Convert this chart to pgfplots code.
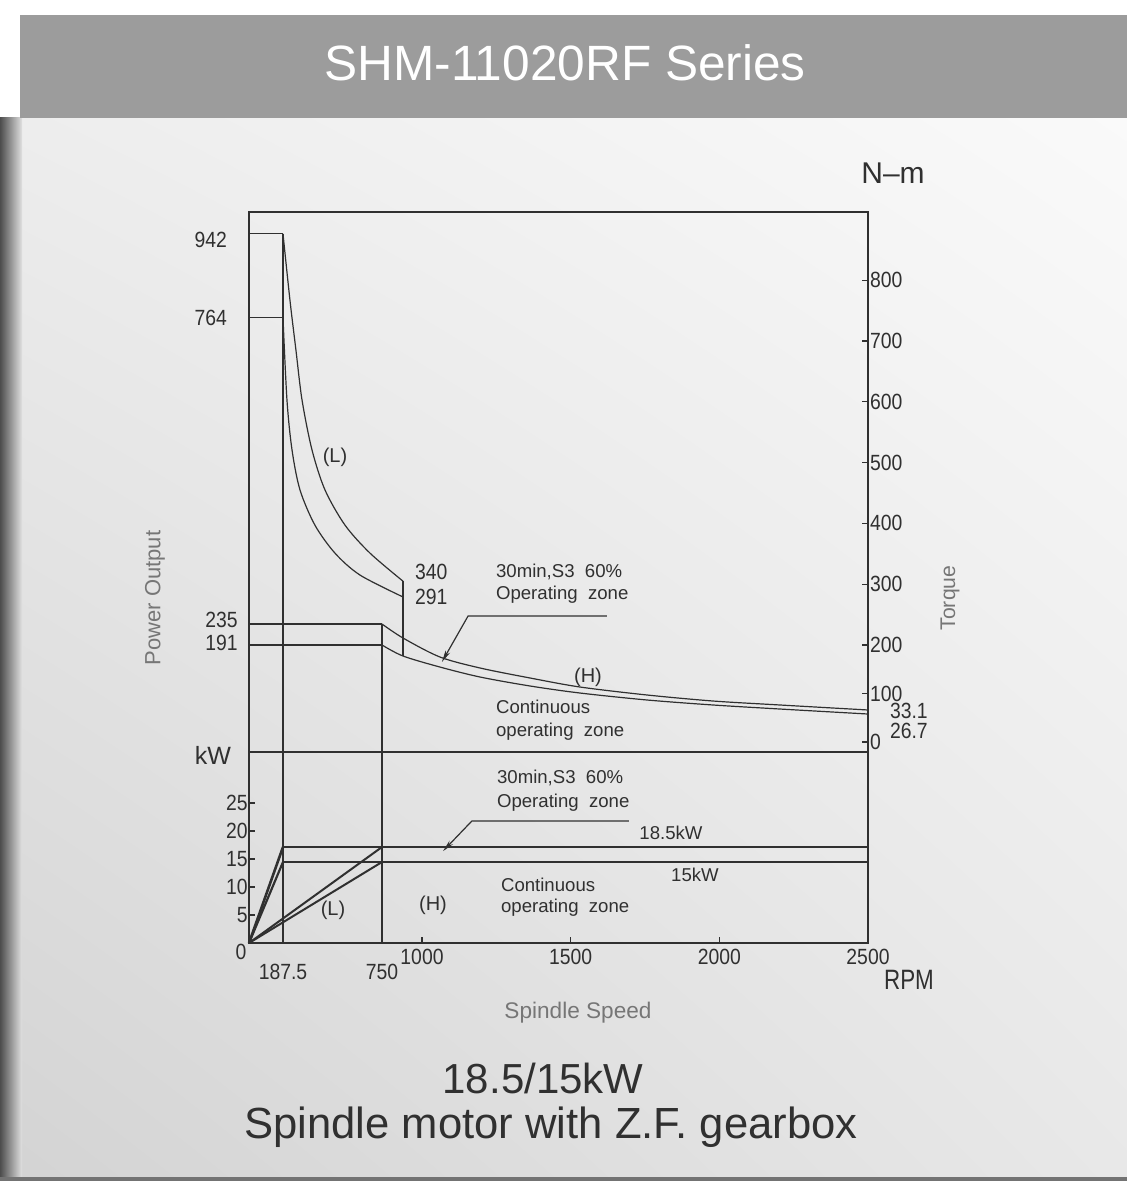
\documentclass[border=0pt]{standalone}
\usepackage{fontspec}
\setmainfont{Liberation Sans}
\newfontfamily\cad[FakeStretch=0.88]{Liberation Sans}
\usepackage{pgfplots}
\pgfplotsset{compat=1.18}
\usetikzlibrary{arrows.meta,shadings}

\definecolor{band}{HTML}{9C9C9C}
\definecolor{ink}{HTML}{303030}
\definecolor{lbl}{HTML}{767676}

\newcommand{\numf}{\cad\fontsize{11}{11}\selectfont}
\newcommand{\txtf}{\fontsize{9.3}{10}\selectfont}

% the speed axis of the drawing is not linear: 0-1000 rpm is squeezed
\pgfplotsset{
  rpm/.style={
    x coord trafo/.code={\pgfmathparse{##1<=187.5 ? ##1*0.18133 : (##1<=750 ? 34+(##1-187.5)*0.176 : (##1<=1000 ? 133+(##1-750)*0.16 : 173+(##1-1000)*0.29733))}},
  },
  nm/.style={
    y coord trafo/.code={\pgfmathparse{##1<=200 ? ##1*0.485 : 97+(##1-200)*0.608}},
  },
  ln/.style={ink, line width=0.6pt, mark=none},
  base/.style={
    scale only axis, clip=false,
    xmin=0, xmax=2500,
    axis line style={ink, line width=1pt},
    tick align=inside, major tick length=3pt,
    tick style={ink, line width=0.6pt},
    tick label style={font=\numf, text=ink},
  },
}

\begin{document}
\begin{tikzpicture}
\begin{scope}[x=0.5pt, y=-0.5pt]
  \fill[white] (0,0) rectangle (1127,1181);
  \shade[upper left=black!7, upper right=black!2, lower left=black!17, lower right=black!9] (20,118) rectangle (1127,1177);
  \shade[left color=black!70, right color=black!12] (0,118) rectangle (22,1181);
  \fill[black!55] (0,1177) rectangle (1127,1181);
  \fill[band] (20,15) rectangle (1127,118);
  \node[text=white, font=\fontsize{24.8}{26}\selectfont] at (565,63) {SHM-11020RF Series};
\end{scope}

% torque panel
\begin{axis}[base, rpm, nm,
  at={(124.5pt,-376pt)}, anchor=south west,
  width=309.5pt, height=270pt,
  ymin=-20.6, ymax=912,
  xtick=\empty,
  ytick={0,100,200,300,400,500,600,700,800},
  yticklabels={0,100,200,300,400,500,600,700,800},
  ytick pos=right, yticklabel pos=right,
  yticklabel style={anchor=west, inner sep=0pt, xshift=0.8pt},
]
\addplot[ln] coordinates {(0,876)(187.5,876)};
\addplot[ln] coordinates {(0,738)(187.5,738)};
\addplot[ln] coordinates {(187.5,876)(187.5,-20.6)};
\addplot[ln, smooth] coordinates {(187.5,876)(227,767)(261,685)(295.5,603)(352,521)(426,455)(540,397)(682,351)(881,305)};
\addplot[ln, smooth] coordinates {(187.5,738)(210,603)(238.6,521)(284,455)(369,397)(483,351)(625,315)(881,279)};
\addplot[ln] coordinates {(881,305)(881,177.3)};
\addplot[ln] coordinates {(0,234.5)(750,234.5)};
\addplot[ln] coordinates {(0,200)(750,200)};
\addplot[ln] coordinates {(750,234.5)(750,-20.6)};
\addplot[ln, smooth] coordinates {(750,234.5)(881,211.5)(1060,175.3)(1195,152.6)(1363,132)(1531,113.4)(1757,96.9)(1979,84.5)(2204,76.3)(2500,66)};
\addplot[ln, smooth] coordinates {(750,200)(881,177.3)(1060,154.6)(1195,134)(1363,115.5)(1531,101)(1757,86.6)(1979,76.3)(2204,68)(2500,57.7)};
\addplot[ln, -{Stealth[length=6pt,width=2.5pt]}] coordinates {(1622,247.7)(1155,247.7)(1067,165)};
\end{axis}

% power panel
\begin{axis}[base, rpm,
  at={(124.5pt,-471.5pt)}, anchor=south west,
  width=309.5pt, height=95.5pt,
  ymin=0, ymax=34.1,
  xtick={1000,1500,2000,2500}, xticklabels={1000,1500,2000,2500},
  extra x ticks={187.5,750}, extra x tick labels={187.5,750},
  extra x tick style={major tick length=0pt, xticklabel style={yshift=-7.5pt}},
  xtick pos=bottom, xticklabel style={inner sep=1pt, yshift=-2pt},
  ytick={5,10,15,20,25}, yticklabels={5,10,15,20,25},
  ytick pos=left, yticklabel style={inner sep=0.5pt},
]
\addplot[ln, line width=1.3pt] coordinates {(0,0)(187.5,17.14)};
\addplot[ln, line width=1.1pt] coordinates {(0,0)(187.5,14.46)};
\addplot[ln, line width=1pt] coordinates {(0,0)(750,17.14)};
\addplot[ln, line width=1pt] coordinates {(0,0)(750,14.46)};
\addplot[ln, line width=1.3pt] coordinates {(187.5,17.14)(2500,17.14)};
\addplot[ln, line width=0.9pt] coordinates {(187.5,14.46)(2500,14.46)};
\addplot[ln, line width=0.8pt] coordinates {(187.5,0)(187.5,34.1)};
\addplot[ln, line width=0.8pt] coordinates {(750,0)(750,34.1)};
\addplot[ln, -{Stealth[length=6pt,width=2.5pt]}] coordinates {(1696,21.8)(1168,21.8)(1070.6,16.4)};
\end{axis}

\begin{scope}[x=0.5pt, y=-0.5pt, every node/.style={text=ink}]
  \node[font=\fontsize{15}{15}\selectfont] at (893,173) {N–m};
  \node[anchor=east, font=\numf] at (234,240) {942};
  \node[anchor=east, font=\numf] at (234,318) {764};
  \node[anchor=east, inner sep=0pt, font=\numf] at (238,620) {235};
  \node[anchor=east, inner sep=0pt, font=\numf] at (238,643) {191};
  \node[anchor=east, font=\fontsize{12.5}{13}\selectfont] at (238,755) {kW};
  \node[font=\numf] at (241,952) {0};
  \node[font=\fontsize{10}{10}\selectfont] at (335,457) {(L)};
  \node[anchor=west, font=\numf] at (408,572) {340};
  \node[anchor=west, font=\numf] at (408,597) {291};
  \node[anchor=west, font=\txtf] at (489,572) {30min,S3\ \ 60\%};
  \node[anchor=west, font=\txtf] at (489,595) {Operating\ \ zone};
  \node[font=\fontsize{10}{10}\selectfont] at (588,677) {(H)};
  \node[anchor=west, font=\txtf] at (489,707) {Continuous};
  \node[anchor=west, font=\txtf] at (489,732) {operating\ \ zone};
  \node[anchor=west, font=\numf] at (883,711) {33.1};
  \node[anchor=west, font=\numf] at (883,731) {26.7};
  \node[anchor=west, font=\txtf] at (490,778) {30min,S3\ \ 60\%};
  \node[anchor=west, font=\txtf] at (490,803) {Operating\ \ zone};
  \node[font=\txtf] at (671,833) {18.5kW};
  \node[font=\txtf] at (695,875) {15kW};
  \node[anchor=west, font=\txtf] at (494,885) {Continuous};
  \node[anchor=west, font=\txtf] at (494,908) {operating\ \ zone};
  \node[font=\fontsize{10}{10}\selectfont] at (333,910) {(L)};
  \node[font=\fontsize{10}{10}\selectfont] at (433,905) {(H)};
  \node[font=\fontsize{14}{14}\selectfont, xscale=0.8] at (909,980) {RPM};
  \node[text=lbl, font=\fontsize{11.3}{12}\selectfont] at (578,1013) {Spindle Speed};
  \node[text=lbl, rotate=90, font=\fontsize{11}{12}\selectfont] at (155,598) {Power Output};
  \node[text=lbl, rotate=90, font=\fontsize{10.6}{12}\selectfont] at (950,598) {Torque};
  \node[font=\fontsize{21}{22}\selectfont] at (543,1078) {18.5/15kW};
  \node[font=\fontsize{21.8}{23}\selectfont] at (551,1127) {Spindle motor with Z.F. gearbox};
\end{scope}
\end{tikzpicture}
\end{document}
